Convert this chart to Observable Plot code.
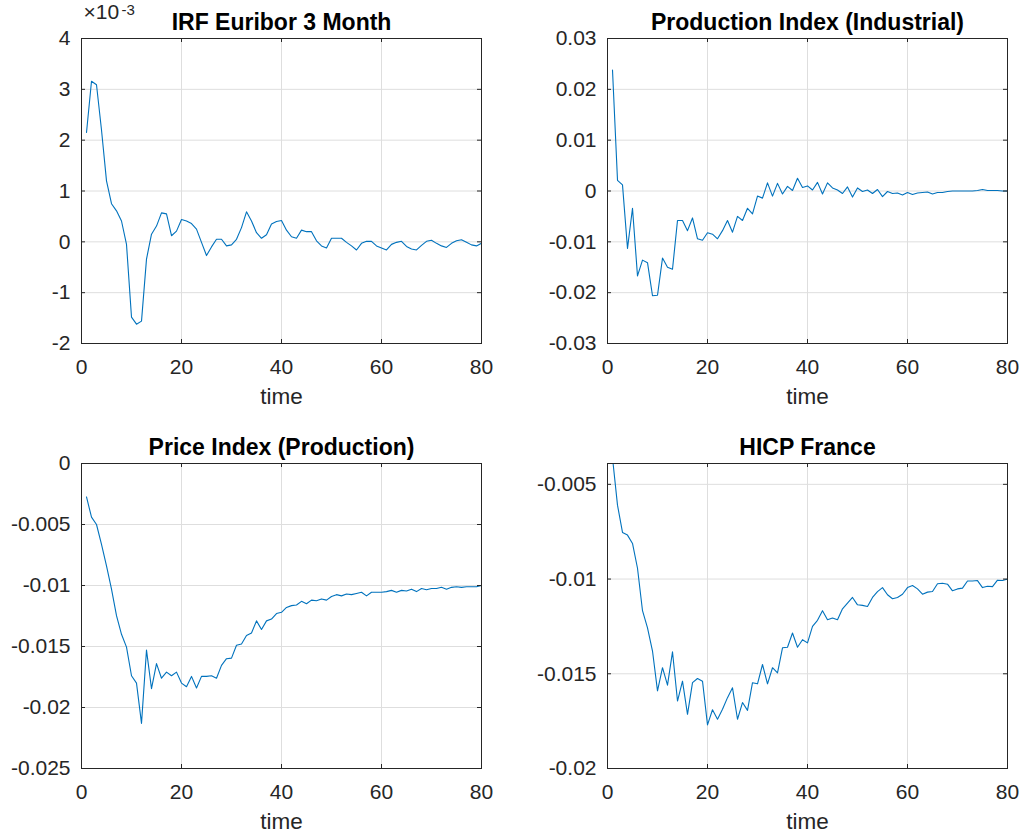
<!DOCTYPE html>
<html>
<head>
<meta charset="utf-8">
<script src="https://cdn.jsdelivr.net/npm/d3@7"></script>
<script src="https://cdn.jsdelivr.net/npm/@observablehq/plot@0.6"></script>
<style>
  html, body { margin: 0; padding: 0; background: #fff; overflow: hidden; }
  #fig { position: relative; width: 1024px; height: 835px; }
  #fig > div { position: absolute; }
</style>
</head>
<body>
<div id="fig"></div>
<script>
// ---- data ----
const timeSteps = d3.range(1, 81);           // horizon 1..80
const xTicks = [0, 20, 40, 60, 80];

// IRF Euribor 3 Month, in units of 1e-3
const euriborE3 = [
  2.15, 3.16, 3.09, 2.2, 1.2, 0.75, 0.61, 0.41, -0.05, -1.48,
  -1.62, -1.56, -0.34, 0.15, 0.31, 0.57, 0.55, 0.12, 0.21, 0.44,
  0.41, 0.36, 0.25, -0.01, -0.27, -0.1, 0.05, 0.05, -0.08, -0.06,
  0.05, 0.28, 0.59, 0.41, 0.18, 0.07, 0.14, 0.35, 0.40, 0.42,
  0.23, 0.10, 0.07, 0.23, 0.20, 0.20, 0.02, -0.08, -0.12, 0.07,
  0.07, 0.07, -0.01, -0.08, -0.16, -0.03, 0.01, 0.01, -0.08, -0.12,
  -0.16, -0.05, -0.01, 0.01, -0.09, -0.14, -0.16, -0.07, 0.01, 0.03,
  -0.03, -0.08, -0.11, -0.03, 0.02, 0.04, -0.01, -0.06, -0.08, -0.03
];
const euriborTicks = [-2, -1, 0, 1, 2, 3, 4];

// Production Index (Industrial)
const production = [
  0.0238, 0.0021, 0.0012, -0.0113, -0.0034, -0.0167, -0.0136, -0.0141, -0.0206, -0.0205,
  -0.0132, -0.0150, -0.0154, -0.0058, -0.0058, -0.0078, -0.0053, -0.0094, -0.0097, -0.0082,
  -0.0085, -0.0094, -0.0078, -0.0058, -0.0081, -0.0050, -0.0058, -0.0034, -0.0045, -0.0010,
  -0.0014, 0.0016, -0.0010, 0.0015, -0.0006, 0.0009, 0.0001, 0.0025, 0.0007, 0.0010,
  0.0002, 0.0017, -0.0006, 0.0016, 0.0006, 0.0002, -0.0005, 0.0008, -0.0012, 0.0006,
  -0.0001, 0.0002, -0.0005, 0.0003, -0.0011, -0.0001, -0.0005, -0.0004, -0.0008, -0.0003,
  -0.0007, -0.0004, -0.0003, -0.0002, -0.0006, -0.0003, -0.0003, -0.0001, 0.0000, 0.0000,
  0.0000, 0.0000, 0.0000, 0.0001, 0.0003, 0.0001, 0.0001, 0.0001, 0.0000, 0.0000
];
const productionTicks = [-0.03, -0.02, -0.01, 0, 0.01, 0.02, 0.03];

// Price Index (Production), in units of 1e-3
const priceE3 = [
  -2.74, -4.40, -5.0, -6.63, -8.40, -10.3, -12.47, -14.0, -15.05, -17.4,
  -18.0, -21.3, -15.3, -18.45, -16.4, -17.6, -17.1, -17.4, -17.1, -18.0,
  -18.3, -17.45, -18.4, -17.45, -17.45, -17.4, -17.6, -16.55, -16.0, -15.95,
  -14.9, -14.8, -14.1, -13.9, -12.9, -13.6, -12.9, -12.75, -12.3, -12.2,
  -11.8, -11.65, -11.6, -11.3, -11.5, -11.2, -11.25, -11.1, -11.2, -10.9,
  -10.75, -10.85, -10.7, -10.75, -10.65, -10.55, -10.85, -10.55, -10.55, -10.55,
  -10.5, -10.4, -10.55, -10.4, -10.45, -10.3, -10.5, -10.25, -10.35, -10.25,
  -10.25, -10.15, -10.3, -10.15, -10.1, -10.15, -10.1, -10.1, -10.1, -10.0
];
const priceTicks = [-0.025, -0.02, -0.015, -0.01, -0.005, 0];

// HICP France, in units of 1e-3
const hicpE3 = [
  -3.6, -6.1, -7.54, -7.68, -8.12, -9.43, -11.67, -12.58, -13.8, -15.9,
  -14.68, -15.6, -13.84, -16.44, -15.39, -17.14, -15.47, -15.25, -15.39, -17.7,
  -16.9, -17.4, -16.87, -16.26, -15.74, -17.4, -16.52, -16.93, -15.47, -15.53,
  -14.51, -15.53, -14.68, -14.95, -13.63, -13.6, -12.85, -13.6, -13.2, -13.37,
  -12.5, -12.18, -11.67, -12.15, -12.06, -12.15, -11.57, -11.27, -10.97, -11.36,
  -11.39, -11.45, -10.97, -10.66, -10.45, -10.83, -11.04, -10.97, -10.8, -10.45,
  -10.34, -10.52, -10.8, -10.69, -10.66, -10.25, -10.22, -10.27, -10.62, -10.52,
  -10.48, -10.1, -10.1, -10.08, -10.45, -10.38, -10.4, -10.06, -10.08, -10.0
];
const hicpTicks = [-0.02, -0.015, -0.01, -0.005];

// ---- drawing ----
const FONT = '"Liberation Sans", Arial, Helvetica, sans-serif';
const AX = "#262626", GRID = "#dedede", LINE = "#0072BD";
const TICK = 4;

function panel(cfg) {
  const pw = cfg.width - cfg.ml - cfg.mr;
  const ph = cfg.height - cfg.mt - cfg.mb;
  const rows = timeSteps.map((t, i) => ({t, v: cfg.values[i] * cfg.unit}));
  const marks = [
    Plot.gridX(xTicks, {stroke: GRID, strokeOpacity: 1}),
    Plot.gridY(cfg.yTicks, {stroke: GRID, strokeOpacity: 1}),
    Plot.line(rows, {x: "t", y: "v", stroke: LINE, strokeWidth: 1.1, clip: cfg.clip || false}),
    Plot.tickX(xTicks, {x: d => d, stroke: AX, insetTop: ph - TICK}),
    Plot.tickX(xTicks, {x: d => d, stroke: AX, insetBottom: ph - TICK}),
    Plot.tickY(cfg.yTicks, {y: d => d, stroke: AX, insetRight: pw - TICK}),
    Plot.tickY(cfg.yTicks, {y: d => d, stroke: AX, insetLeft: pw - TICK}),
    Plot.frame({stroke: AX, strokeWidth: 1}),
    Plot.axisX(xTicks, {tickSize: 0, tickPadding: 16, label: null, tickFormat: d => String(d), fill: AX, fontSize: 21}),
    Plot.axisY(cfg.yTicks, {tickSize: 0, tickPadding: 11, label: null, tickFormat: d => String(d), fill: AX, fontSize: 21}),
    Plot.text([cfg.title], {frameAnchor: "top", lineAnchor: "bottom", dy: -9, fontWeight: "bold", fontSize: 23, fill: "#000"}),
    Plot.text(["time"], {frameAnchor: "bottom", lineAnchor: "bottom", dy: 60, fontSize: 22.5, fill: AX})
  ];
  if (cfg.exponent) {
    marks.push(Plot.text(["×10"], {frameAnchor: "top-left", textAnchor: "start", lineAnchor: "bottom", dx: 2, dy: -20, fontSize: 21, fill: AX}));
    marks.push(Plot.text([cfg.exponent], {frameAnchor: "top-left", textAnchor: "start", lineAnchor: "bottom", dx: 40, dy: -24, fontSize: 15, fill: AX}));
  }
  const chart = Plot.plot({
    width: cfg.width, height: cfg.height,
    marginLeft: cfg.ml, marginRight: cfg.mr, marginTop: cfg.mt, marginBottom: cfg.mb,
    x: {domain: [0, 80], label: null},
    y: {domain: cfg.yDomain, label: null},
    style: {fontFamily: FONT, fontSize: "21px", overflow: "visible", background: "transparent", color: AX},
    marks
  });
  const wrap = document.createElement("div");
  wrap.style.left = cfg.left + "px";
  wrap.style.top = cfg.top + "px";
  wrap.appendChild(chart);
  document.getElementById("fig").appendChild(wrap);
}

panel({title: "IRF Euribor 3 Month", values: euriborE3, unit: 1, yDomain: [-2, 4], yTicks: euriborTicks,
       exponent: "-3", left: 0, top: 0, width: 500, height: 418, ml: 81, mr: 19, mt: 38, mb: 75});
panel({title: "Production Index (Industrial)", values: production, unit: 1, yDomain: [-0.03, 0.03], yTicks: productionTicks,
       left: 526, top: 0, width: 498, height: 418, ml: 81, mr: 17, mt: 38, mb: 75});
panel({title: "Price Index (Production)", values: priceE3, unit: 1e-3, yDomain: [-0.025, 0], yTicks: priceTicks,
       left: 0, top: 425, width: 500, height: 410, ml: 81, mr: 19, mt: 38, mb: 67});
panel({title: "HICP France", values: hicpE3, unit: 1e-3, yDomain: [-0.02, -0.0039], yTicks: hicpTicks, clip: true,
       left: 526, top: 425, width: 498, height: 410, ml: 81, mr: 17, mt: 38, mb: 67});
</script>
</body>
</html>
